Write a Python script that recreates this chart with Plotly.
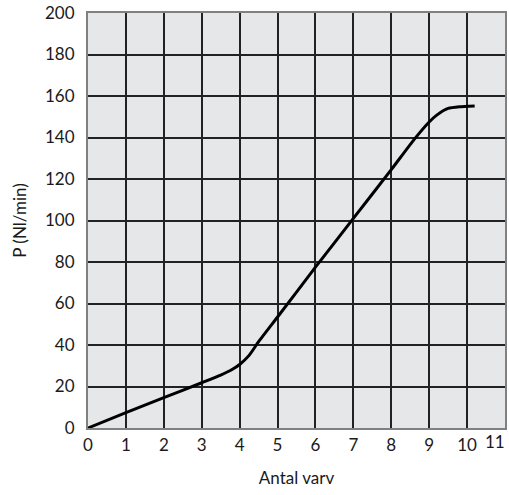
import plotly.graph_objects as go

x_vals = [0, 1, 2, 3, 3.5, 3.8, 4, 4.25, 4.5, 5, 6, 7, 8, 8.6, 9, 9.2, 9.5, 9.8, 10.2]
y_vals = [0, 7.4, 14.6, 21.8, 25.5, 28.2, 30.6, 35, 41.6, 53.5, 77.5, 101, 124.5, 139, 147.5, 150.8, 154, 154.8, 155.2]

x_ticks = list(range(0, 12))
x_labels = [str(v) for v in x_ticks[:-1]] + [""]
y_ticks = list(range(0, 201, 20))

fig = go.Figure()
fig.add_trace(go.Scatter(x=x_vals, y=y_vals, mode="lines",
                         line=dict(color="black", width=3, shape="spline", smoothing=0.5),
                         showlegend=False, hoverinfo="skip"))

font = dict(family="Lato, Open Sans, sans-serif", size=17, color="#1a1a1a")
fig.update_layout(
    width=509, height=495,
    margin=dict(l=88, r=4, t=13, b=67, autoexpand=False),
    paper_bgcolor="white", plot_bgcolor="#e6e7e8",
    font=font,
)
fig.update_xaxes(range=[0, 11], tickvals=x_ticks, ticktext=x_labels,
                 showgrid=True, gridcolor="#222222", gridwidth=1.5,
                 showline=True, linecolor="#808080", linewidth=2, mirror=True,
                 zeroline=False, ticks="", ticklabelstandoff=1, automargin=False,
                 title=dict(text="Antal varv", standoff=18, font=font))
fig.update_yaxes(range=[0, 200], tickvals=y_ticks, ticktext=[str(v) for v in y_ticks],
                 showgrid=True, gridcolor="#222222", gridwidth=1.5,
                 showline=True, linecolor="#808080", linewidth=2, mirror=True,
                 zeroline=False, ticks="", ticklabelstandoff=8, automargin=False,
                 title=dict(text="P (Nl/min)", standoff=14, font=font))
fig.add_annotation(x=11, y=0, xref="x", yref="paper", text=str(x_ticks[-1]),
                   showarrow=False, xanchor="right", yanchor="top", xshift=2, yshift=-1,
                   font=font)
fig.write_html("out.html", config={"displayModeBar": False},
               post_script="document.body.style.margin='0';document.body.style.overflow='hidden';")
